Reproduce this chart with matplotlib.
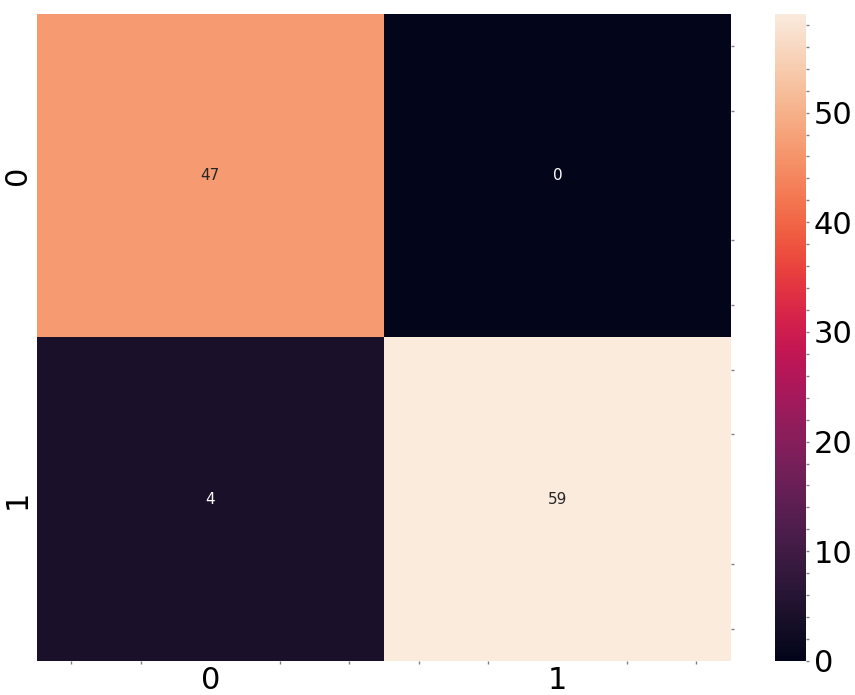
import numpy as np
import matplotlib.pyplot as plt
import seaborn as sns
from matplotlib.ticker import AutoMinorLocator

labels = ["0", "1"]
cm = np.array([[47, 0],
               [4, 59]])

fig = plt.figure(figsize=(8.55, 6.95), dpi=100)
ax = fig.add_axes([0.043, 0.049, 0.812, 0.931])
cax = fig.add_axes([0.906, 0.049, 0.037, 0.931])

sns.heatmap(cm, annot=True, fmt="d", ax=ax, cbar_ax=cax,
            xticklabels=labels, yticklabels=labels,
            annot_kws={"size": 11})

ax.tick_params(axis="both", which="major", labelsize=22, length=0)
ax.xaxis.set_minor_locator(AutoMinorLocator(5))
ax.yaxis.set_minor_locator(AutoMinorLocator(5))
ax.tick_params(which="minor", bottom=True, right=True, left=False,
               length=2, width=1, color="gray")

cax.tick_params(which="major", labelsize=22, length=2, width=1, color="gray")
cax.yaxis.set_minor_locator(AutoMinorLocator(5))
cax.tick_params(which="minor", length=2, width=1, color="gray")

fig.savefig("out.png", dpi=100)
